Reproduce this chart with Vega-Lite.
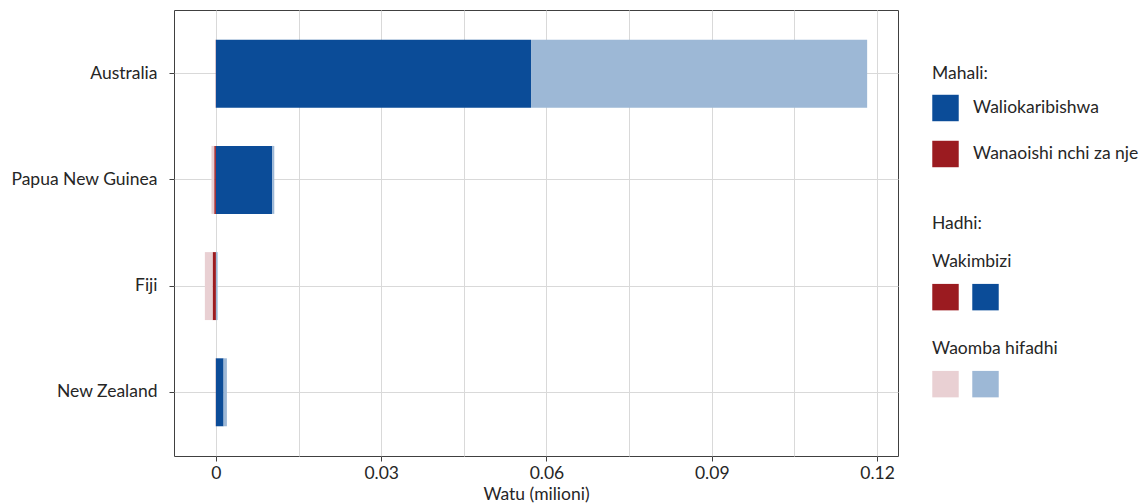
{
  "$schema": "https://vega.github.io/schema/vega-lite/v6.json",
  "autosize": {"type": "none"},
  "width": 724,
  "height": 446,
  "padding": {"left": 174, "top": 10, "right": 245, "bottom": 48},
  "background": "white",
  "config": {
    "font": "Lato",
    "view": {"stroke": "#404040", "strokeWidth": 1},
    "axis": {"labelFont": "Lato", "titleFont": "Lato", "labelFontSize": 17.5, "titleFontSize": 17.5, "labelColor": "#262626", "titleColor": "#262626", "titleFontWeight": "normal", "domain": false, "gridColor": "#d9d9d9", "gridWidth": 1, "tickColor": "#404040"},
    "legend": {"labelFont": "Lato", "titleFont": "Lato", "labelFontSize": 17.5, "titleFontSize": 17.5, "labelColor": "#262626", "titleColor": "#262626", "titleFontWeight": "normal", "padding": 0, "labelLimit": 400}
  },
  "data": {
    "values": [
      {"nchi": "Australia", "mahali": "Waliokaribishwa", "hadhi": "Wakimbizi", "kundi": "Waliokaribishwa – Wakimbizi", "watu": 0.0572},
      {"nchi": "Australia", "mahali": "Waliokaribishwa", "hadhi": "Waomba hifadhi", "kundi": "Waliokaribishwa – Waomba hifadhi", "watu": 0.061},
      {"nchi": "Australia", "mahali": "Wanaoishi nchi za nje", "hadhi": "Wakimbizi", "kundi": "Wanaoishi nchi za nje – Wakimbizi", "watu": -0.00003},
      {"nchi": "Australia", "mahali": "Wanaoishi nchi za nje", "hadhi": "Waomba hifadhi", "kundi": "Wanaoishi nchi za nje – Waomba hifadhi", "watu": -0.00003},
      {"nchi": "Papua New Guinea", "mahali": "Waliokaribishwa", "hadhi": "Wakimbizi", "kundi": "Waliokaribishwa – Wakimbizi", "watu": 0.0102},
      {"nchi": "Papua New Guinea", "mahali": "Waliokaribishwa", "hadhi": "Waomba hifadhi", "kundi": "Waliokaribishwa – Waomba hifadhi", "watu": 0.0004},
      {"nchi": "Papua New Guinea", "mahali": "Wanaoishi nchi za nje", "hadhi": "Wakimbizi", "kundi": "Wanaoishi nchi za nje – Wakimbizi", "watu": -0.0003},
      {"nchi": "Papua New Guinea", "mahali": "Wanaoishi nchi za nje", "hadhi": "Waomba hifadhi", "kundi": "Wanaoishi nchi za nje – Waomba hifadhi", "watu": -0.0005},
      {"nchi": "Fiji", "mahali": "Waliokaribishwa", "hadhi": "Wakimbizi", "kundi": "Waliokaribishwa – Wakimbizi", "watu": 0.00002},
      {"nchi": "Fiji", "mahali": "Waliokaribishwa", "hadhi": "Waomba hifadhi", "kundi": "Waliokaribishwa – Waomba hifadhi", "watu": 0.0003},
      {"nchi": "Fiji", "mahali": "Wanaoishi nchi za nje", "hadhi": "Wakimbizi", "kundi": "Wanaoishi nchi za nje – Wakimbizi", "watu": -0.0006},
      {"nchi": "Fiji", "mahali": "Wanaoishi nchi za nje", "hadhi": "Waomba hifadhi", "kundi": "Wanaoishi nchi za nje – Waomba hifadhi", "watu": -0.0014},
      {"nchi": "New Zealand", "mahali": "Waliokaribishwa", "hadhi": "Wakimbizi", "kundi": "Waliokaribishwa – Wakimbizi", "watu": 0.0014},
      {"nchi": "New Zealand", "mahali": "Waliokaribishwa", "hadhi": "Waomba hifadhi", "kundi": "Waliokaribishwa – Waomba hifadhi", "watu": 0.0006},
      {"nchi": "New Zealand", "mahali": "Wanaoishi nchi za nje", "hadhi": "Wakimbizi", "kundi": "Wanaoishi nchi za nje – Wakimbizi", "watu": -0.00002},
      {"nchi": "New Zealand", "mahali": "Wanaoishi nchi za nje", "hadhi": "Waomba hifadhi", "kundi": "Wanaoishi nchi za nje – Waomba hifadhi", "watu": -0.00002}
    ]
  },
  "resolve": {"scale": {"color": "independent"}},
  "layer": [
    {
      "mark": {"type": "bar"},
      "encoding": {
        "y": {
          "field": "nchi", "type": "nominal",
          "sort": ["Australia", "Papua New Guinea", "Fiji", "New Zealand"],
          "scale": {"paddingInner": 0.36, "paddingOuter": 0.28},
          "axis": {"title": null, "grid": true, "tickSize": 5, "labelPadding": 12}
        },
        "x": {
          "field": "watu", "type": "quantitative", "stack": "zero",
          "scale": {"domain": [-0.0076, 0.1238], "nice": false},
          "axis": {
            "title": "Watu (milioni)",
            "values": [0, 0.015, 0.03, 0.045, 0.06, 0.075, 0.09, 0.105, 0.12],
            "format": "~g",
            "labelExpr": "abs(datum.value * 100 / 3 - round(datum.value * 100 / 3)) < 0.01 ? datum.label : ''",
            "tickOpacity": {"condition": {"test": "abs(datum.value * 100 / 3 - round(datum.value * 100 / 3)) < 0.01", "value": 1}, "value": 0},
            "tickSize": 5, "labelPadding": 3, "titlePadding": 4
          }
        },
        "order": {"field": "hadhi", "sort": "ascending"},
        "color": {
          "field": "kundi", "type": "nominal",
          "scale": {
            "domain": ["Waliokaribishwa – Wakimbizi", "Waliokaribishwa – Waomba hifadhi", "Wanaoishi nchi za nje – Wakimbizi", "Wanaoishi nchi za nje – Waomba hifadhi"],
            "range": ["#0b4c98", "#9db8d6", "#9b1b20", "#e9d0d3"]
          },
          "legend": null
        }
      }
    },
    {
      "transform": [{"filter": "false"}],
      "mark": {"type": "square", "opacity": 1},
      "encoding": {
        "color": {
          "field": "mahali", "type": "nominal",
          "scale": {"domain": ["Waliokaribishwa", "Wanaoishi nchi za nje"], "range": ["#0b4c98", "#9b1b20"]},
          "legend": {"title": "Mahali:", "orient": "none", "legendX": 758, "legendY": 55, "symbolType": "square", "symbolSize": 700, "symbolOpacity": 1, "symbolStrokeWidth": 0, "rowPadding": 19, "titlePadding": 12, "labelOffset": 14, "labelLimit": 400}
        }
      }
    },
    {
      "transform": [{"filter": "false"}],
      "mark": {"type": "square", "opacity": 1},
      "encoding": {
        "color": {
          "field": "kundi", "type": "nominal",
          "scale": {"domain": ["Wanaoishi nchi za nje – Wakimbizi", "Waliokaribishwa – Wakimbizi"], "range": ["#9b1b20", "#0b4c98"]},
          "legend": {"title": ["Hadhi:", "Wakimbizi"], "titleLineHeight": 38, "orient": "none", "legendX": 758, "legendY": 205, "direction": "horizontal", "columns": 2, "columnPadding": 13, "symbolType": "square", "symbolSize": 700, "symbolOpacity": 1, "symbolStrokeWidth": 0, "labelExpr": "''", "labelOffset": 0, "titlePadding": 13}
        }
      }
    },
    {
      "transform": [{"filter": "false"}],
      "mark": {"type": "square", "opacity": 1},
      "encoding": {
        "color": {
          "field": "hadhi", "type": "nominal",
          "scale": {"domain": ["Waomba hifadhi – nje", "Waomba hifadhi – karibishwa"], "range": ["#e9d0d3", "#9db8d6"]},
          "legend": {"title": "Waomba hifadhi", "orient": "none", "legendX": 758, "legendY": 330, "direction": "horizontal", "columns": 2, "columnPadding": 13, "symbolType": "square", "symbolSize": 700, "symbolOpacity": 1, "symbolStrokeWidth": 0, "labelExpr": "''", "labelOffset": 0, "titlePadding": 13}
        }
      }
    }
  ]
}
